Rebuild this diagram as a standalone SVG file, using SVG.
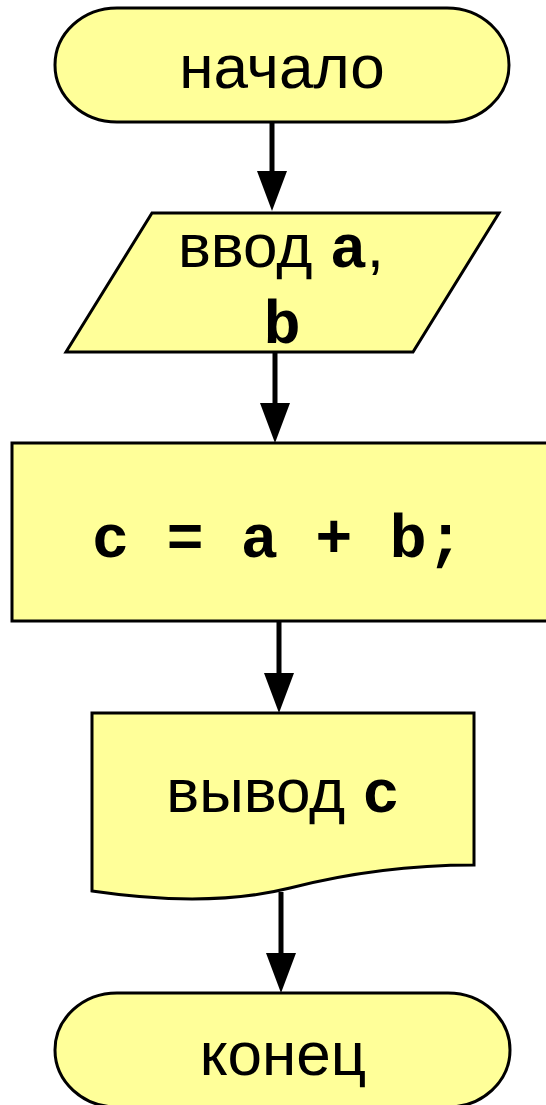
<svg xmlns="http://www.w3.org/2000/svg" width="546" height="1105" viewBox="0 0 546 1105">
<style>
.shape{fill:#FFFF99;stroke:#000;stroke-width:3}
.t{font-family:"Liberation Sans",Arial,sans-serif;font-size:62px;fill:#000}
.m{font-family:"Liberation Mono","Courier New",monospace;font-weight:bold}
.conn{stroke:#000;stroke-width:5;fill:none}
</style>
<defs>
<marker id="ah" markerUnits="userSpaceOnUse" markerWidth="40" markerHeight="30" refX="10" refY="15" viewBox="0 0 40 30" orient="auto">
<path d="M0,0 L40,15 L0,30 Z" fill="#000"/>
</marker>
</defs>
<g id="connectors">
<line class="conn" x1="272" y1="122" x2="272" y2="181" marker-end="url(#ah)"/>
<line class="conn" x1="275" y1="353" x2="275" y2="413" marker-end="url(#ah)"/>
<line class="conn" x1="279" y1="622" x2="279" y2="683" marker-end="url(#ah)"/>
<line class="conn" x1="281" y1="892" x2="281" y2="963" marker-end="url(#ah)"/>
</g>
<g id="start">
<rect class="shape" x="55" y="8" width="454" height="114" rx="62" ry="57"/>
<text class="t" x="282" y="88" text-anchor="middle">начало</text>
</g>
<g id="input">
<polygon class="shape" points="152,213 499,213 413,352 66,352"/>
<text class="t" x="281" y="267" text-anchor="middle">ввод <tspan class="m">a</tspan>,</text>
<text class="t m" x="282" y="343" text-anchor="middle">b</text>
</g>
<g id="process">
<rect class="shape" x="12" y="443" width="540" height="178"/>
<text class="t m" x="278" y="557" text-anchor="middle">c = a + b;</text>
</g>
<g id="output">
<path class="shape" d="M92,713 L474,713 L474,865 C420,865 360,870 290,888 C230,903 160,901 92,891 Z"/>
<text class="t" x="283" y="812" text-anchor="middle">вывод <tspan class="m">c</tspan></text>
</g>
<g id="end">
<rect class="shape" x="55" y="993" width="455" height="114" rx="62" ry="57"/>
<text class="t" x="283" y="1075" text-anchor="middle">конец</text>
</g>
</svg>
